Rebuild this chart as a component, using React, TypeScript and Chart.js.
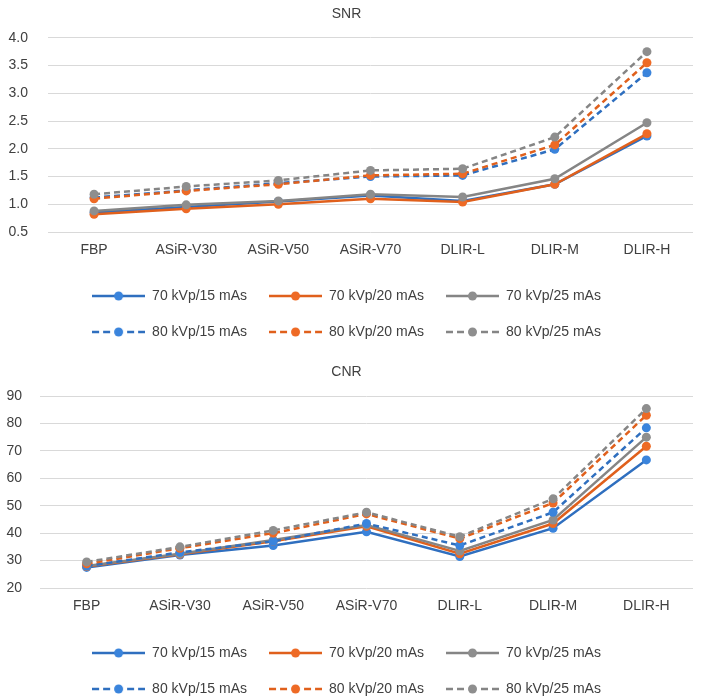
import React, { useEffect, useRef } from 'react';
import { Chart, registerables } from 'chart.js';
Chart.register(...registerables);

const categories = ['FBP', 'ASiR-V30', 'ASiR-V50', 'ASiR-V70', 'DLIR-L', 'DLIR-M', 'DLIR-H'];
const seriesLabels = ['70 kVp/15 mAs', '70 kVp/20 mAs', '70 kVp/25 mAs', '80 kVp/15 mAs', '80 kVp/20 mAs', '80 kVp/25 mAs'];

const snr70_15 = [0.85, 0.95, 1.05, 1.16, 1.06, 1.36, 2.23];
const snr70_20 = [0.82, 0.92, 1.0, 1.1, 1.04, 1.36, 2.27];
const snr70_25 = [0.88, 0.99, 1.06, 1.18, 1.13, 1.46, 2.47];
const snr80_15 = [1.12, 1.25, 1.38, 1.5, 1.52, 1.99, 3.37];
const snr80_20 = [1.1, 1.24, 1.36, 1.52, 1.55, 2.07, 3.55];
const snr80_25 = [1.18, 1.32, 1.43, 1.61, 1.64, 2.21, 3.75];

const cnr70_15 = [27.5, 32.0, 35.5, 40.5, 31.5, 41.8, 66.7];
const cnr70_20 = [27.8, 32.3, 37.0, 42.5, 32.5, 43.5, 71.7];
const cnr70_25 = [28.0, 32.5, 37.5, 43.0, 33.5, 44.8, 75.0];
const cnr80_15 = [28.0, 33.0, 37.0, 43.5, 35.5, 47.6, 78.4];
const cnr80_20 = [28.8, 34.5, 40.0, 47.0, 38.0, 51.0, 83.0];
const cnr80_25 = [29.5, 35.0, 41.0, 47.6, 38.7, 52.5, 85.4];

const snrTicks = { min: 0.5, max: 4.0, step: 0.5, decimals: 1 };
const cnrTicks = { min: 20, max: 90, step: 10, decimals: 0 };

const lineColors = ['#2f6fbf', '#e0601c', '#858585', '#2f6fbf', '#e0601c', '#858585'];
const pointColors = ['#3a84dc', '#ee6a25', '#8e8e8e', '#3a84dc', '#ee6a25', '#8e8e8e'];
const dashedSeries = [false, false, false, true, true, true];

const FONT = "'Liberation Sans', Arial, sans-serif";
const TEXT = '#404040';

function makeLegendIcon(lineColor: string, pointColor: string, dashed: boolean) {
  const c = document.createElement('canvas');
  c.width = 53;
  c.height = 12;
  const ctx = c.getContext('2d')!;
  ctx.strokeStyle = lineColor;
  ctx.lineWidth = 2.5;
  if (dashed) {
    ctx.setLineDash([7, 4]);
    ctx.beginPath();
    ctx.moveTo(0, 6);
    ctx.lineTo(22, 6);
    ctx.stroke();
    ctx.beginPath();
    ctx.moveTo(53, 6);
    ctx.lineTo(31, 6);
    ctx.stroke();
    ctx.setLineDash([]);
  } else {
    ctx.beginPath();
    ctx.moveTo(0, 6);
    ctx.lineTo(53, 6);
    ctx.stroke();
  }
  ctx.fillStyle = pointColor;
  ctx.beginPath();
  ctx.arc(26.5, 6, 4.5, 0, Math.PI * 2);
  ctx.fill();
  return c;
}

type Opts = {
  title: string;
  series: number[][];
  ticks: { min: number; max: number; step: number; decimals: number };
  yWidth: number;
  yPad: number;
  xHeight: number;
  titleTop: number;
  titleBottom: number;
  bottomPad: number;
};

function makeConfig(o: Opts): any {
  const icons = seriesLabels.map((_, i) => makeLegendIcon(lineColors[i], pointColors[i], dashedSeries[i]));
  return {
    type: 'line',
    data: {
      labels: categories,
      datasets: o.series.map((d, i) => ({
        label: seriesLabels[i],
        data: d,
        borderColor: lineColors[i],
        backgroundColor: pointColors[i],
        pointBackgroundColor: pointColors[i],
        pointBorderWidth: 0,
        pointRadius: 4.5,
        borderWidth: 2.5,
        borderDash: dashedSeries[i] ? [6, 4] : [],
        tension: 0,
        order: 5 - i,
      })),
    },
    options: {
      animation: false,
      responsive: true,
      maintainAspectRatio: false,
      layout: { padding: { left: 0, right: 20, top: 0, bottom: o.bottomPad } },
      plugins: {
        tooltip: { enabled: false },
        title: {
          display: true,
          text: o.title,
          color: TEXT,
          font: { family: FONT, size: 14, weight: 'normal' },
          padding: { top: o.titleTop, bottom: o.titleBottom },
        },
        legend: {
          position: 'bottom',
          labels: {
            usePointStyle: true,
            pointStyleWidth: 53,
            padding: 22,
            color: TEXT,
            font: { family: FONT, size: 14 },
            generateLabels: () =>
              seriesLabels.map((t, i) => ({
                text: t,
                pointStyle: icons[i],
                fillStyle: pointColors[i],
                strokeStyle: lineColors[i],
                lineWidth: 0,
                hidden: false,
                datasetIndex: i,
                fontColor: TEXT,
              })),
          },
        },
      },
      scales: {
        x: {
          offset: true,
          grid: { display: false, drawTicks: false },
          border: { display: false },
          ticks: { color: TEXT, font: { family: FONT, size: 14 }, padding: 10, maxRotation: 0, autoSkip: false },
          afterFit: (s: any) => {
            s.height = o.xHeight;
          },
        },
        y: {
          min: o.ticks.min,
          max: o.ticks.max,
          grid: { color: '#d9d9d9', lineWidth: 1, drawTicks: false },
          border: { display: false },
          ticks: {
            stepSize: o.ticks.step,
            color: TEXT,
            font: { family: FONT, size: 14 },
            padding: o.yPad,
            callback: (v: any) => Number(v).toFixed(o.ticks.decimals),
          },
          afterFit: (s: any) => {
            s.width = o.yWidth;
          },
        },
      },
    },
  };
}

function ChartBox({ opts, top, height }: { opts: Opts; top: number; height: number }) {
  const ref = useRef<HTMLCanvasElement>(null);
  useEffect(() => {
    const chart = new Chart(ref.current!, makeConfig(opts));
    return () => chart.destroy();
  }, []);
  return (
    <div style={{ position: 'absolute', left: 0, top, width: 713, height }}>
      <canvas ref={ref} />
    </div>
  );
}

export default function App() {
  const snrOpts: Opts = {
    title: 'SNR',
    series: [snr70_15, snr70_20, snr70_25, snr80_15, snr80_20, snr80_25],
    ticks: snrTicks,
    yWidth: 48,
    yPad: 20,
    xHeight: 35,
    titleTop: 6,
    titleBottom: 15,
    bottomPad: 7,
  };
  const cnrOpts: Opts = {
    title: 'CNR',
    series: [cnr70_15, cnr70_20, cnr70_25, cnr80_15, cnr80_20, cnr80_25],
    ticks: cnrTicks,
    yWidth: 40,
    yPad: 18,
    xHeight: 36,
    titleTop: 7.6,
    titleBottom: 15.6,
    bottomPad: 5,
  };
  return (
    <div style={{ position: 'fixed', left: 0, top: 0, width: 713, height: 699, overflow: 'hidden', background: '#fff' }}>
      <ChartBox opts={snrOpts} top={0} height={356} />
      <ChartBox opts={cnrOpts} top={356} height={355} />
    </div>
  );
}
